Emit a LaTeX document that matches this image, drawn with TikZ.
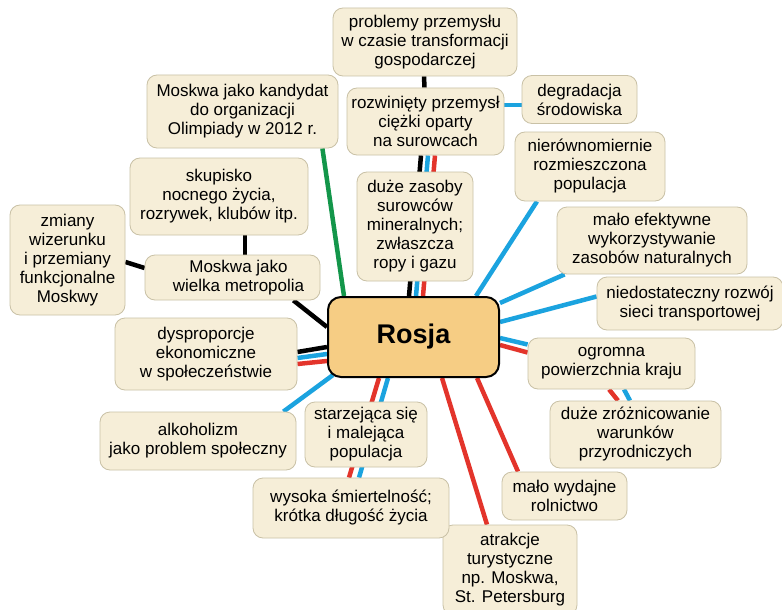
\documentclass[tikz,border=0pt]{standalone}
\usepackage{fontspec}
\setmainfont{Liberation Sans}
\usetikzlibrary{backgrounds}
\definecolor{boxfill}{HTML}{F6EED8}
\definecolor{boxline}{HTML}{C9C1A6}
\definecolor{rosfill}{HTML}{F6CD84}
\definecolor{lblue}{HTML}{1BA3DF}
\definecolor{lred}{HTML}{E3342B}
\definecolor{lgreen}{HTML}{13964A}
\tikzset{
  box/.style={draw=boxline, line width=0.8pt, fill=boxfill, rounded corners=10pt,
    align=center, inner sep=0pt, font=\fontsize{17}{19}\selectfont},
  rosbox/.style={draw=black, line width=2pt, fill=rosfill, rounded corners=13pt,
    inner sep=0pt, font=\fontsize{27}{30}\selectfont\bfseries},
  con/.style={line width=4.5pt},
  cblack/.style={con, draw=black},
  cblue/.style={con, draw=lblue},
  cred/.style={con, draw=lred},
  cgreen/.style={con, draw=lgreen},
}
\begin{document}
\begin{tikzpicture}[x=1pt,y=-1pt]
\useasboundingbox (0,0) rectangle (782,610);

\node[box, minimum width=184pt, minimum height=68pt] (prob) at (425,42) {problemy przemysłu\\w czasie transformacji\\gospodarczej};
\node[box, minimum width=157pt, minimum height=67pt] (rozw) at (425.5,121.5) {rozwinięty przemysł\\ciężki oparty\\na surowcach};
\node[box, minimum width=115pt, minimum height=48pt] (degr) at (579.5,99.5) {degradacja\\środowiska};
\node[box, minimum width=191pt, minimum height=73pt] (kand) at (242.5,111.5) {Moskwa jako kandydat\\do organizacji\\Olimpiady w 2012 r.};
\node[box, minimum width=178pt, minimum height=77pt] (skup) at (219,196.5) {skupisko\\nocnego życia,\\rozrywek, klubów itp.};
\node[box, minimum width=115pt, minimum height=110pt] (zmia) at (67.5,260) {zmiany\\wizerunku\\i przemiany\\funkcjonalne\\Moskwy};
\node[box, minimum width=175pt, minimum height=45pt] (metr) at (232.5,277.5) {\hspace*{12pt}Moskwa jako\\\hspace*{12pt}wielka metropolia};
\node[box, minimum width=116pt, minimum height=109pt] (zaso) at (415,226.5) {duże zasoby\\surowców\\mineralnych;\\zwłaszcza\\ropy i gazu};
\node[rosbox, minimum width=171pt, minimum height=80pt] (rosja) at (413.5,337) {Rosja};
\node[box, minimum width=150pt, minimum height=69pt] (nier) at (590,166.5) {nierównomiernie\\rozmieszczona\\populacja};
\node[box, minimum width=190pt, minimum height=67pt] (efek) at (652,240.5) {mało efektywne\\wykorzystywanie\\zasobów naturalnych};
\node[box, minimum width=186pt, minimum height=53pt] (tran) at (690,303.5) {niedostateczny rozwój\\sieci transportowej};
\node[box, minimum width=167pt, minimum height=51pt] (ogro) at (611.5,363.5) {ogromna\\powierzchnia kraju};
\node[box, minimum width=171pt, minimum height=67pt] (zroz) at (635.5,434.5) {duże zróżnicowanie\\warunków\\przyrodniczych};
\node[box, minimum width=125pt, minimum height=48pt] (roln) at (564.5,496) {mało wydajne\\rolnictwo};
\node[box, minimum width=134pt, minimum height=90pt] (atra) at (510,570) {atrakcje\\turystyczne\\np. Moskwa,\\St. Petersburg};
\node[box, minimum width=196pt, minimum height=60pt] (smie) at (351,508) {wysoka śmiertelność;\\krótka długość życia};
\node[box, minimum width=122pt, minimum height=65pt] (star) at (366,434.5) {starzejąca się\\i malejąca\\populacja};
\node[box, minimum width=196pt, minimum height=58pt] (alko) at (198,441) {alkoholizm\\jako problem społeczny};
\node[box, minimum width=182pt, minimum height=72pt] (dysp) at (206,354) {dysproporcje\\ekonomiczne\\w społeczeństwie};

\begin{pgfonlayer}{background}
\fill[white] (0,0) rectangle (782,610);
\draw[cblack] ([xshift=-1pt]prob.south) -- ([xshift=-1pt]rozw.north);
\draw[cblue] ([yshift=16.5pt]rozw.east) -- ([yshift=-5.5pt]degr.west);
\draw[cblack] ([xshift=-4.5pt]rozw.south) -- ([xshift=-4.5pt]rosja.north);
\draw[cblue] ([xshift=2.5pt]rozw.south) -- ([xshift=2.5pt]rosja.north);
\draw[cred] ([xshift=9.5pt]rozw.south) -- ([xshift=9.5pt]rosja.north);
\draw[cgreen] ([xshift=-16pt]kand.south east) -- ([xshift=17pt]rosja.north west);
\draw[cblack] ([xshift=26pt]skup.south) -- ([xshift=12.5pt]metr.north);
\draw[cblack] ([yshift=-2pt]zmia.east) -- ([yshift=9.5pt]metr.west);
\draw[cblack] ([xshift=-27pt]metr.south east) -- ([yshift=10pt]rosja.west);
\draw[cblack] ([yshift=2pt]dysp.east) -- ([yshift=-10pt]rosja.west);
\draw[cblue] ([yshift=-4pt]dysp.east) -- ([yshift=-17pt]rosja.west);
\draw[cred] ([yshift=-10pt]dysp.east) -- ([yshift=-24pt]rosja.west);
\draw[cblue] ([xshift=-13pt]alko.north east) -- ([xshift=6pt,yshift=3pt]rosja.south west);
\draw[cred] ([xshift=-34.5pt]rosja.south) -- ([xshift=-2pt]smie.north);
\draw[cblue] ([xshift=-25.5pt]rosja.south) -- ([xshift=8pt]smie.north);
\draw[cred] ([xshift=28.5pt]rosja.south) -- ([xshift=-23pt]atra.north);
\draw[cred] ([xshift=63.5pt]rosja.south) -- ([xshift=-46.5pt]roln.north);
\draw[cblue] ([yshift=-1pt]rosja.east) -- ([yshift=19pt]ogro.west);
\draw[cred] ([yshift=-8pt]rosja.east) -- ([yshift=11pt]ogro.west);
\draw[cred] ([xshift=-2.5pt]ogro.south) -- ([xshift=-17.5pt]zroz.north);
\draw[cblue] ([xshift=12.5pt]ogro.south) -- ([xshift=-5.5pt]zroz.north);
\draw[cblue] ([yshift=15pt]rosja.east) -- ([yshift=7pt]tran.west);
\draw[cblue] ([yshift=34pt]rosja.east) -- ([xshift=8pt]efek.south west);
\draw[cblue] ([xshift=-24pt]rosja.north east) -- ([xshift=-53pt]nier.south);
\end{pgfonlayer}
\end{tikzpicture}
\end{document}
